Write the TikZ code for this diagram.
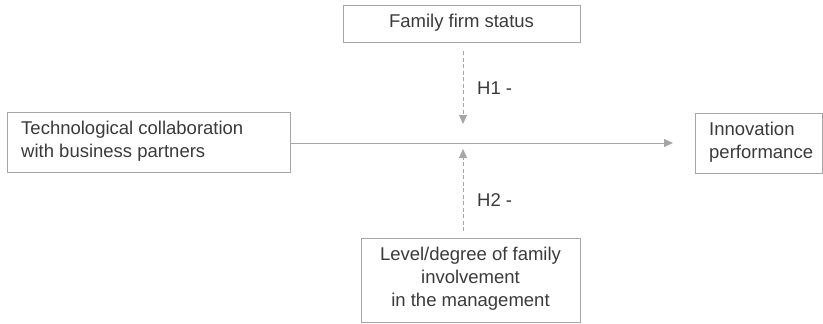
\documentclass[tikz,border=0pt]{standalone}
\usepackage{fontspec}
\setmainfont{Liberation Sans}
\usetikzlibrary{arrows.meta}
\definecolor{boxgray}{HTML}{A6A6A6}
\definecolor{txtgray}{HTML}{3A3A3A}
\begin{document}
\begin{tikzpicture}[x=1pt,y=-1pt,
  every node/.style={font=\fontsize{18.5}{23}\selectfont, text=txtgray, inner sep=0pt},
  boxrect/.style={draw=boxgray, line width=0.9pt},
  conn/.style={draw=boxgray, line width=1pt, -{Triangle[length=9pt,width=8pt]}},
  dconn/.style={conn, dashed, dash pattern=on 4pt off 2.5pt}]
\useasboundingbox (0,0) rectangle (823,324);
% boxes
\draw[boxrect] (7,112) rectangle (290,172);
\node[anchor=west, align=left] (tc) at (21,141) {Technological collaboration\\with business partners};
\coordinate (tcR) at (290,143);
\draw[boxrect] (343,5) rectangle (580,42);
\node (ff) at (461.5,22.5) {Family firm status};
\coordinate (ffB) at (463,42);
\draw[boxrect] (361,238) rectangle (580,322);
\node[align=center] (lv) at (470.5,279) {Level/degree of family\\involvement\\in the management};
\coordinate (lvT) at (463,238);
\draw[boxrect] (695,113) rectangle (822.5,173);
\node[anchor=west, align=left] (ip) at (709,142) {Innovation\\performance};
\coordinate (ipL) at (695,143);
% connectors
\coordinate (mainEnd) at (673,143);
\draw[conn] (tcR) -- (mainEnd);
\coordinate (h1s) at (463,51);
\coordinate (h1e) at (463,124);
\draw[dconn] (h1s) -- (h1e);
\coordinate (h2s) at (463,231);
\coordinate (h2e) at (463,149);
\draw[dconn] (h2s) -- (h2e);
\node[anchor=west] (h1) at (477,88) {H1 -};
\node[anchor=west] (h2) at (477,200) {H2 -};
\end{tikzpicture}
\end{document}
